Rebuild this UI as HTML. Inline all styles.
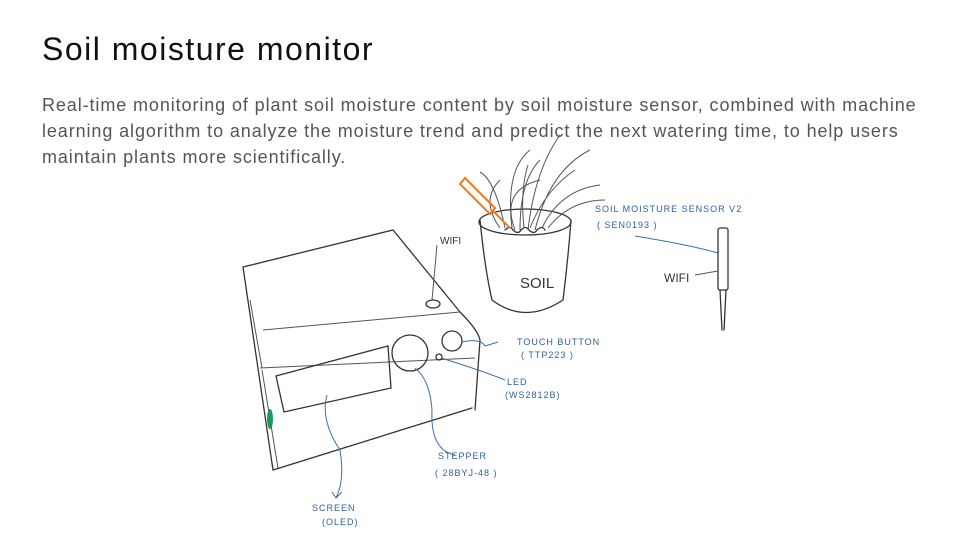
<!DOCTYPE html>
<html><head><meta charset="utf-8"><style>
body{margin:0;width:960px;height:540px;background:#fff;overflow:hidden;font-family:"Liberation Sans",sans-serif;position:relative}
h1{position:absolute;left:42px;top:31px;margin:0;font-weight:400;font-size:32px;letter-spacing:1.5px;color:#111}
p{position:absolute;left:42px;top:92px;margin:0;width:900px;font-size:18px;letter-spacing:0.9px;line-height:26px;color:#555}
svg{position:absolute;left:0;top:0}
.k{fill:none;stroke:#333;stroke-width:1.3;stroke-linecap:round}
.l{fill:none;stroke:#555;stroke-width:1}
.b{fill:none;stroke:#3a6fb0;stroke-width:1}
.t{font-family:"Liberation Sans",sans-serif;font-size:9px;fill:#2f5f9f;letter-spacing:1px}
</style></head><body>
<h1>Soil moisture monitor</h1>
<p>Real-time monitoring of plant soil moisture content by soil moisture sensor, combined with machine learning algorithm to analyze the moisture trend and predict the next watering time, to help users maintain plants more scientifically.</p>
<svg width="960" height="540">
<g>
<path class="k" d="M243,267 L393,230 L460,312 Q478,330 480,340 L475,410"/>
<path class="k" d="M243,267 L273,470 L472,408"/>
<path class="l" d="M250,300 L262,368 M263,330 L460,312 M260,368 L475,358 M262,370 L278,468"/>
<path class="k" d="M276,376 L388,346 L391,388 L284,412 Z"/>
<circle class="k" cx="410" cy="353" r="18"/>
<circle class="k" cx="452" cy="341" r="10"/>
<circle class="k" cx="439" cy="357" r="3"/>
<ellipse cx="270" cy="419" rx="3" ry="10" fill="#1a9a55"/>
<path class="l" d="M437,245 L432,300"/>
<ellipse class="k" cx="433" cy="304" rx="7" ry="4"/>
</g>
<g>
<ellipse class="k" cx="525" cy="222" rx="46" ry="13"/>
<path class="k" d="M480,220 Q485,270 492,300 Q525,325 563,300 Q568,260 571,220"/>
<path class="k" d="M505,230 q5,-5 8,0 q5,5 8,0 q5,-5 8,0 q5,5 8,0 q5,-5 8,0"/>
<path class="l" d="M505,228 Q495,180 480,172 M512,228 Q505,170 530,150 M520,230 Q520,180 540,160 M528,230 Q535,170 560,135 M535,230 Q550,170 590,150 M542,228 Q560,190 600,185 M548,228 Q570,200 605,200 M500,228 Q480,200 500,180 M515,230 Q500,190 540,180 M530,228 Q545,190 575,170 M524,228 Q520,190 528,165"/>
<path d="M465,178 L495,208 L490,214 L460,184 Z M493,211 L510,228" fill="none" stroke="#f07a1a" stroke-width="2"/>
<text x="520" y="288" font-size="15" fill="#333" font-family="Liberation Sans">SOIL</text>
</g>
<g>
<rect class="k" x="718" y="228" width="10" height="62" rx="2"/>
<path class="k" d="M720,290 L722,330 M726,290 L724,330"/>
<path class="b" d="M635,236 Q690,245 718,253"/>
<path class="l" d="M695,275 L718,271"/>
<text x="664" y="282" font-size="12" fill="#333">WIFI</text>
</g>
<text x="440" y="244" font-size="10" fill="#333">WIFI</text>
<g>
<path class="b" d="M462,342 Q480,338 485,346 L498,342"/>
<path class="b" d="M441,358 Q480,370 505,380"/>
<path class="b" d="M415,368 Q430,380 432,410 Q430,450 455,455"/>
<path class="b" d="M327,395 Q320,420 340,450 Q345,480 336,498 M332,492 L336,498 L342,492"/>
<text class="t" x="517" y="345">TOUCH BUTTON</text>
<text class="t" x="521" y="358">( TTP223 )</text>
<text class="t" x="507" y="385">LED</text>
<text class="t" x="505" y="398">(WS2812B)</text>
<text class="t" x="438" y="459">STEPPER</text>
<text class="t" x="435" y="476">( 28BYJ-48 )</text>
<text class="t" x="312" y="511">SCREEN</text>
<text class="t" x="322" y="525">(OLED)</text>
<text class="t" x="595" y="212">SOIL MOISTURE SENSOR V2</text>
<text class="t" x="597" y="228">( SEN0193 )</text>
</g>
</svg>
</body></html>
